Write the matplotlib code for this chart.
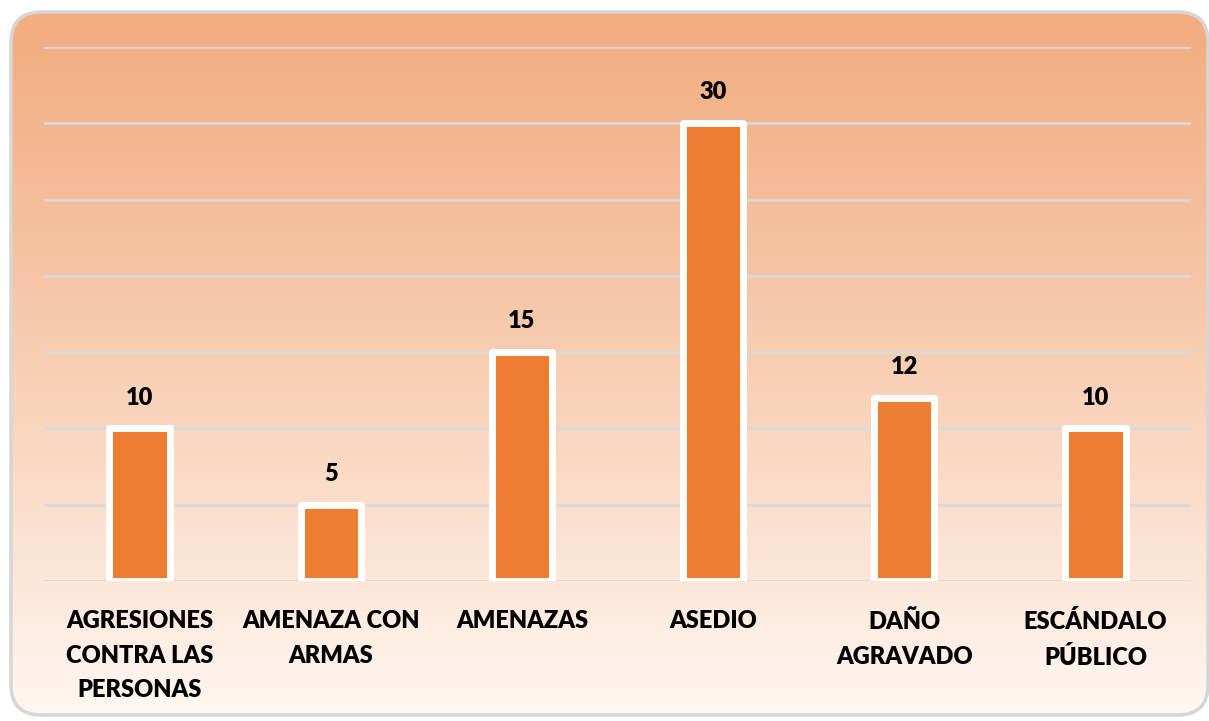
import matplotlib.pyplot as plt
import numpy as np
from matplotlib.patches import FancyBboxPatch

categories = ["AGRESIONES\nCONTRA LAS\nPERSONAS", "AMENAZA CON\nARMAS", "AMENAZAS",
              "ASEDIO", "DAÑO\nAGRAVADO", "ESCÁNDALO\nPÚBLICO"]
values = [10, 5, 15, 30, 12, 10]

plt.rcParams['font.family'] = ['Lato', 'DejaVu Sans']

fig = plt.figure(figsize=(12.09, 7.21), dpi=100)
fig.patch.set_facecolor('white')

# rounded panel with vertical gradient
panel = FancyBboxPatch((11 / 1209, 6 / 721), 1 - 12 / 1209, 1 - 18 / 721,
                       boxstyle="round,pad=0,rounding_size=0.025",
                       transform=fig.transFigure, facecolor='none',
                       edgecolor='#D6D6D6', linewidth=2.5, zorder=1,
                       mutation_aspect=1209 / 721)
fig.patches.append(panel)

bg = fig.add_axes([0, 0, 1, 1], zorder=0)
bg.set_axis_off()
top = np.array([242, 172, 127]) / 255
bot = np.array([255, 248, 243]) / 255
t = np.linspace(0, 1, 256)[:, None]
grad = top * (1 - t[..., None] ** 1.15) + bot * t[..., None] ** 1.15
grad = np.repeat(grad, 2, axis=1)
im = bg.imshow(grad, aspect='auto', extent=[0, 1, 0, 1], transform=fig.transFigure,
               interpolation='bicubic')
im.set_clip_path(panel)

ax = fig.add_axes([44 / 1209, 1 - 581 / 721, (1191 - 44) / 1209, (581 - 47) / 721], zorder=2)
ax.patch.set_alpha(0)
x = np.arange(len(categories))
bars = ax.bar(x, values, width=0.315, color='#ED7D31', edgecolor='white', linewidth=5, zorder=3)
for b in bars:
    b.set_joinstyle('round')
for xi, v in zip(x, values):
    ax.text(xi, v + 1.3, str(v), ha='center', va='bottom', fontsize=17,
            fontweight='heavy', color='black')

ax.set_xlim(-0.5, len(categories) - 0.5)
ax.set_ylim(0, 35)
ax.set_yticks(np.arange(0, 36, 5))
ax.yaxis.grid(True, color='#D9D9D9', linewidth=2)
ax.set_axisbelow(True)
ax.tick_params(axis='y', left=False, labelleft=False)
ax.tick_params(axis='x', length=0, pad=21)
ax.set_xticks(x)
ax.set_xticklabels(categories, fontsize=17, fontweight='heavy', linespacing=1.7, va='top')
for s in ax.spines.values():
    s.set_visible(False)

fig.savefig('out.png', dpi=100)
